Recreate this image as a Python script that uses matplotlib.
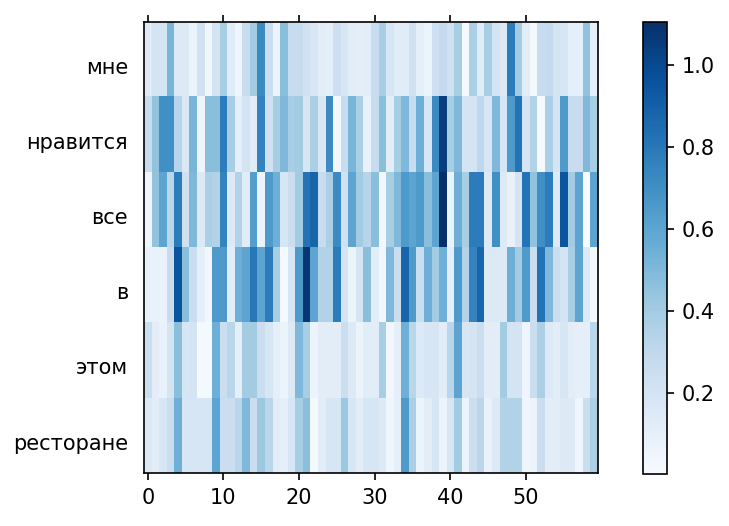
import matplotlib
matplotlib.use('Agg')
from matplotlib import pyplot as plt
from matplotlib import transforms
import numpy as np

# words on the y axis (one row each)
words = ['мне', 'нравится', 'все', 'в', 'этом', 'ресторане']

# attention weights, 60 columns per word
mne = [0.14, 0.2, 0.2, 0.52, 0.15, 0.15, 0.07, 0.22, 0.04, 0.2, 0.38, 0.13, 0.05, 0.27, 0.4,
       0.72, 0.25, 0.06, 0.47, 0.27, 0.27, 0.22, 0.17, 0.12, 0.1, 0.24, 0.18, 0.12, 0.11, 0.12,
       0.27, 0.38, 0.18, 0.13, 0.13, 0.22, 0.1, 0.07, 0.23, 0.28, 0.22, 0.38, 0.02, 0.37, 0.13,
       0.38, 0.2, 0.15, 0.78, 0.4, 0.12, 0.02, 0.27, 0.28, 0.2, 0.18, 0.1, 0.1, 0.45, 0.1]
nravitsya = [0.27, 0.45, 0.7, 0.7, 0.33, 0.16, 0.52, 0.05, 0.47, 0.47, 0.78, 0.38, 0.1, 0.2, 0.12,
             0.75, 0.22, 0.38, 0.5, 0.38, 0.4, 0.18, 0.37, 0.17, 0.72, 0.03, 0.27, 0.52, 0.37, 0.08,
             0.27, 0.47, 0.12, 0.38, 0.5, 0.27, 0.55, 0.18, 0.72, 1.05, 0.38, 0.5, 0.2, 0.2, 0.3,
             0.18, 0.5, 0.18, 0.65, 0.82, 0.2, 0.35, 0.02, 0.37, 0.2, 0.65, 0.27, 0.27, 0.5, 0.38]
vse = [0.05, 0.45, 0.6, 0.32, 0.78, 0.23, 0.5, 0.15, 0.37, 0.35, 0.75, 0.15, 0.35, 0.13, 0.63,
       0.06, 0.65, 0.55, 0.18, 0.25, 0.4, 0.82, 0.88, 0.27, 0.37, 0.72, 0.22, 0.6, 0.4, 0.33,
       0.47, 0.03, 0.38, 0.5, 0.65, 0.6, 0.65, 0.47, 0.6, 1.106, 0.06, 0.55, 0.38, 0.78, 0.78,
       0.15, 0.7, 0.15, 0.08, 0.2, 0.82, 0.45, 0.7, 0.78, 0.15, 0.95, 0.4, 0.6, 0.004, 0.6]
v = [0.08, 0.08, 0.08, 0.27, 0.95, 0.47, 0.25, 0.1, 0.03, 0.65, 0.65, 0.12, 0.55, 0.6, 0.8,
     0.6, 0.78, 0.38, 0.02, 0.18, 0.65, 1.08, 0.6, 0.35, 0.35, 0.78, 0.2, 0.06, 0.2, 0.47,
     0.12, 0.03, 0.5, 0.25, 0.88, 0.65, 0.25, 0.55, 0.4, 0.55, 0.1, 0.65, 0.35, 0.75, 0.88,
     0.15, 0.15, 0.15, 0.55, 0.4, 0.65, 0.25, 0.82, 0.5, 0.25, 0.2, 0.38, 0.6, 0.15, 0.03]
etom = [0.25, 0.12, 0.08, 0.2, 0.47, 0.18, 0.2, 0.02, 0.02, 0.55, 0.25, 0.32, 0.1, 0.4, 0.4,
        0.25, 0.18, 0.1, 0.06, 0.15, 0.5, 0.38, 0.06, 0.12, 0.12, 0.12, 0.25, 0.15, 0.06, 0.12,
        0.12, 0.38, 0.03, 0.1, 0.55, 0.32, 0.15, 0.18, 0.18, 0.12, 0.32, 0.6, 0.18, 0.2, 0.25,
        0.12, 0.12, 0.4, 0.2, 0.2, 0.05, 0.25, 0.37, 0.15, 0.12, 0.18, 0.12, 0.1, 0.1, 0.32]
restorane = [0.15, 0.12, 0.18, 0.25, 0.55, 0.18, 0.18, 0.18, 0.18, 0.6, 0.25, 0.25, 0.32, 0.5, 0.25,
             0.42, 0.32, 0.12, 0.1, 0.18, 0.38, 0.47, 0.02, 0.12, 0.18, 0.18, 0.42, 0.18, 0.12, 0.18,
             0.18, 0.15, 0.05, 0.1, 0.65, 0.37, 0.06, 0.12, 0.18, 0.06, 0.18, 0.4, 0.06, 0.25, 0.32,
             0.08, 0.15, 0.35, 0.35, 0.35, 0.05, 0.06, 0.25, 0.12, 0.12, 0.15, 0.15, 0.05, 0.25, 0.37]

attn = np.array([mne, nravitsya, vse, v, etom, restorane])

dpi = 150
fig = plt.figure(figsize=(730 / dpi, 526 / dpi), dpi=dpi)
ax = fig.add_axes([0.1973, 0.1008, 0.6215, 0.858])
cax = fig.add_axes([0.8812, 0.0992, 0.032, 0.8596])

im = ax.imshow(attn, cmap='Blues', aspect='auto', interpolation='nearest')
ax.set_yticks(range(len(words)))
ax.set_yticklabels(words)
ax.tick_params(axis='y', length=0, pad=7.7)
# labels sit a little below the row centres in the original
offset = transforms.ScaledTranslation(0, -3 / 72, fig.dpi_scale_trans)
for lab in ax.get_yticklabels():
    lab.set_transform(lab.get_transform() + offset)
ax.set_xticks(np.arange(0, attn.shape[1], 10))
ax.tick_params(axis='x', top=True)

cb = fig.colorbar(im, cax=cax)
cb.set_ticks([0.2, 0.4, 0.6, 0.8, 1.0])

plt.savefig('out.png', dpi=dpi)
